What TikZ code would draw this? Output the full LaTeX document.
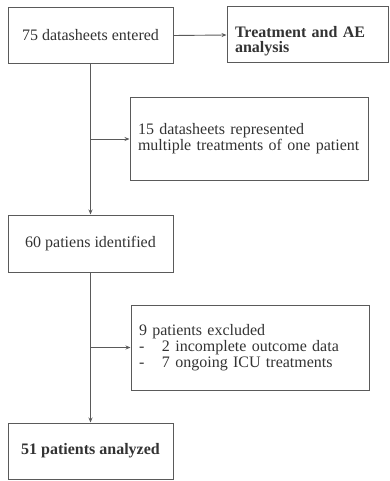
\documentclass[tikz,border=0pt]{standalone}
\usepackage{fontspec}
\setmainfont{Liberation Serif}
\usetikzlibrary{arrows.meta}
\definecolor{txt}{HTML}{333333}
\definecolor{ln}{HTML}{5A5A5A}
\begin{document}
\begin{tikzpicture}[x=1pt,y=-1pt,
  box/.style={draw=ln, line width=1pt, rectangle, inner sep=0pt, text=txt,
    font=\fontsize{16}{16}\selectfont},
  lbox/.style={box, inner xsep=8pt, align=left},
  conn/.style={draw=ln, line width=0.9pt, -{Stealth[length=5pt,width=4pt]}}]
\useasboundingbox (0,0) rectangle (389,481);
\node[box, minimum width=165pt, minimum height=56pt] (b1) at (90.5,35.5) {75 datasheets entered};
\node[lbox, minimum width=161pt, minimum height=56pt, text width=145pt, font=\fontsize{16}{15.5}\selectfont\bfseries] (b2) at (307.5,35) {\rule{0pt}{23pt}Treatment and AE\\analysis};
\node[lbox, minimum width=238pt, minimum height=82pt, text width=222pt] (b3) at (249,139) {15 datasheets represented\\multiple treatments of one patient};
\node[box, minimum width=165pt, minimum height=57pt] (b4) at (90.5,243.5) {60 patiens identified};
\node[lbox, minimum width=238pt, minimum height=85pt, text width=222pt] (b5) at (250,347.5) {9 patients excluded\\\makebox[23pt][l]{-}2 incomplete outcome data\\\makebox[23pt][l]{-}7 ongoing ICU treatments};
\node[box, minimum width=165pt, minimum height=56pt, font=\fontsize{16}{16}\selectfont\bfseries] (b6) at (90.5,451) {51 patients analyzed};
\coordinate (j1) at (b1.south |- b3.west);
\coordinate (j2) at (b4.south |- b5.west);
\draw[conn] (b1.east) -- (b2.west);
\draw[conn] (b1.south) -- (b4.north);
\draw[conn] (j1) -- (b3.west);
\draw[conn] (b4.south) -- (b6.north);
\draw[conn] (j2) -- (b5.west);
\end{tikzpicture}
\end{document}
